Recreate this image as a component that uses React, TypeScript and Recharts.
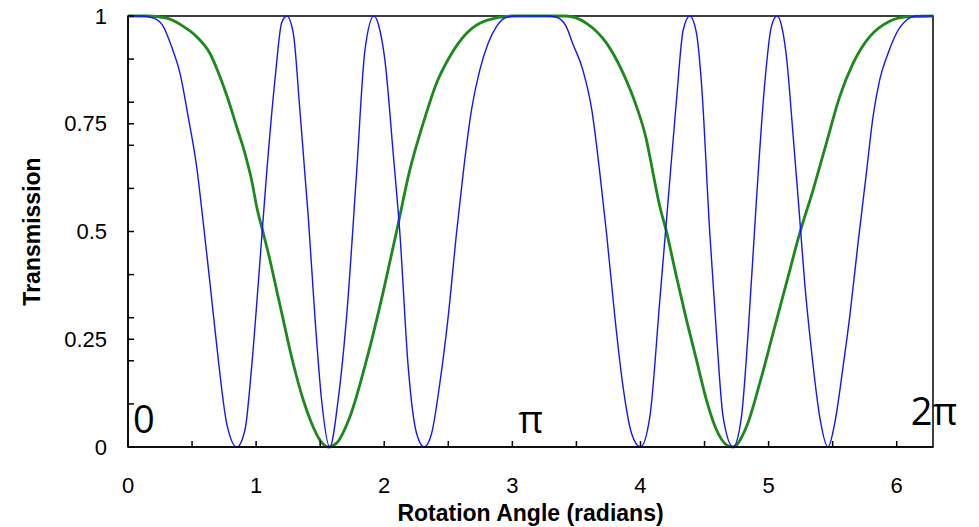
import React from "react";
import {
  LineChart,
  Line,
  XAxis,
  YAxis,
  ReferenceArea,
  ReferenceDot,
} from "recharts";

const TWO_PI = 6.2832;

// green trace: angle (rad) and transmission
const greenAngle = [
  0, 0.15, 0.302, 0.432, 0.536, 0.64, 0.718, 0.783, 0.848, 0.913, 0.965, 1.004,
  1.056, 1.108, 1.16, 1.212, 1.264, 1.316, 1.368, 1.433, 1.498, 1.563, 1.628,
  1.732, 1.862, 1.992, 2.096, 2.2, 2.304, 2.408, 2.512, 2.643, 2.799, 3.006,
  3.42, 3.579, 3.735, 3.865, 3.969, 4.047, 4.073, 4.151, 4.2, 4.281, 4.359,
  4.437, 4.515, 4.593, 4.671, 4.72, 4.827, 4.931, 5.035, 5.139, 5.243, 5.347,
  5.451, 5.555, 5.659, 5.789, 5.945, 6.075, 6.2832,
];
const greenValue = [
  1, 1, 0.995, 0.976, 0.952, 0.913, 0.859, 0.805, 0.743, 0.681, 0.619, 0.558,
  0.496, 0.434, 0.364, 0.295, 0.225, 0.163, 0.109, 0.055, 0.016, 0, 0.009,
  0.07, 0.202, 0.36, 0.5, 0.643, 0.751, 0.844, 0.906, 0.96, 0.99, 1,
  1, 0.983, 0.937, 0.867, 0.79, 0.712, 0.674, 0.558, 0.503, 0.395, 0.295,
  0.202, 0.109, 0.04, 0.005, 0, 0.047, 0.148, 0.264, 0.38, 0.496, 0.596,
  0.705, 0.813, 0.89, 0.952, 0.988, 0.998, 1,
];

// blue trace: angle (rad) and transmission
const blueAngle = [
  0, 0.1, 0.2, 0.275, 0.34, 0.406, 0.47, 0.536, 0.588, 0.64, 0.705, 0.77, 0.85,
  0.913, 0.965, 1.017, 1.082, 1.147, 1.2, 1.24, 1.29, 1.342, 1.407, 1.459,
  1.511, 1.575, 1.64, 1.706, 1.784, 1.849, 1.92, 1.966, 2.005, 2.07, 2.122,
  2.187, 2.252, 2.312, 2.37, 2.434, 2.499, 2.564, 2.616, 2.681, 2.746, 2.811,
  2.877, 2.955, 3.03, 3.15, 3.27, 3.345, 3.42, 3.47, 3.55, 3.62, 3.683, 3.735,
  3.8, 3.86, 3.93, 4.0, 4.073, 4.151, 4.216, 4.281, 4.333, 4.385, 4.437, 4.476,
  4.541, 4.593, 4.645, 4.723, 4.788, 4.84, 4.905, 4.97, 5.022, 5.066, 5.113,
  5.139, 5.19, 5.242, 5.282, 5.334, 5.399, 5.464, 5.516, 5.581, 5.633, 5.698,
  5.763, 5.815, 5.867, 5.932, 5.998, 6.075, 6.153, 6.2832,
];
const blueValue = [
  1, 1, 0.995, 0.976, 0.929, 0.867, 0.766, 0.65, 0.519, 0.38, 0.202, 0.055, 0,
  0.04, 0.186, 0.38, 0.635, 0.852, 0.985, 1, 0.96, 0.78, 0.534, 0.302,
  0.109, 0, 0.109, 0.302, 0.635, 0.92, 1, 0.967, 0.898, 0.681, 0.496,
  0.186, 0.032, 0, 0.032, 0.148, 0.302, 0.496, 0.635, 0.782, 0.875, 0.937,
  0.976, 0.997, 1, 1, 1, 0.997, 0.976, 0.937, 0.875, 0.782, 0.635, 0.496,
  0.302, 0.148, 0.032, 0, 0.07, 0.341, 0.573, 0.805, 0.967, 1, 0.96, 0.844,
  0.496, 0.264, 0.07, 0, 0.07, 0.264, 0.573, 0.844, 0.976, 1, 0.96,
  0.906, 0.728, 0.534, 0.38, 0.225, 0.07, 0, 0.055, 0.186, 0.302, 0.473,
  0.635, 0.766, 0.852, 0.913, 0.96, 0.99, 1, 1,
];

const xTicks = [0, 0.5, 1, 1.5, 2, 2.5, 3, 3.5, 4, 4.5, 5, 5.5, 6];
const xTickLabels = [0, 1, 2, 3, 4, 5, 6];
const yTicks = [0, 0.1, 0.2, 0.25, 0.3, 0.4, 0.5, 0.6, 0.7, 0.75, 0.8, 0.9, 1];
const yTickLabels = [0, 0.25, 0.5, 0.75, 1];

// angle markers written inside the plot
const markerText = ["0", "\u03c0", "2\u03c0"];
const markerAngle = [0.04, Math.PI, 6.11];
const markerLevel = [0.032, 0.032, 0.051];
const markerAnchor = ["start", "middle", "start"];

const greenData = greenAngle.map((x, i) => ({ x, v: greenValue[i] }));
const blueData = blueAngle.map((x, i) => ({ x, v: blueValue[i] }));

const tickFont = "'Liberation Sans', Arial, sans-serif";

const XTick = (props: any) => {
  const { x, y, payload } = props;
  const showLabel = xTickLabels.includes(payload.value);
  return (
    <g>
      <line x1={x} x2={x} y1={y} y2={y - 6} stroke="#000" strokeWidth={1.5} />
      {showLabel && (
        <text x={x} y={y + 46} textAnchor="middle" fontSize={22} fontFamily={tickFont} fill="#000">
          {payload.value}
        </text>
      )}
    </g>
  );
};

const YTick = (props: any) => {
  const { x, y, payload } = props;
  const showLabel = yTickLabels.includes(payload.value);
  return (
    <g>
      <line x1={x} x2={x + 6} y1={y} y2={y} stroke="#000" strokeWidth={1.5} />
      {showLabel && (
        <text x={x - 21} y={y} dy="0.35em" textAnchor="end" fontSize={22} fontFamily={tickFont} fill="#000">
          {payload.value}
        </text>
      )}
    </g>
  );
};

const App = () => {
  return (
    <div style={{ position: "absolute", left: 0, top: 0 }}>
      <LineChart width={979} height={527} margin={{ top: 16, right: 46, left: 0, bottom: 0 }}>
        <XAxis
          dataKey="x"
          type="number"
          domain={[0, TWO_PI]}
          ticks={xTicks}
          interval={0}
          allowDataOverflow
          height={80}
          tickSize={0}
          tickMargin={0}
          tickLine={false}
          tick={<XTick />}
          axisLine={{ stroke: "#000", strokeWidth: 1.5 }}
          label={{
            content: (p: any) => (
              <text
                x={p.viewBox.x + p.viewBox.width / 2}
                y={p.viewBox.y + 74}
                textAnchor="middle"
                fontSize={23}
                fontWeight="bold"
                fontFamily={tickFont}
                fill="#000"
              >
                Rotation Angle (radians)
              </text>
            ),
          }}
        />
        <YAxis
          dataKey="v"
          type="number"
          domain={[0, 1]}
          ticks={yTicks}
          interval={0}
          width={128}
          tickSize={0}
          tickMargin={0}
          tickLine={false}
          tick={<YTick />}
          axisLine={{ stroke: "#000", strokeWidth: 1.5 }}
          label={{
            content: (p: any) => (
              <text
                x={40}
                y={p.viewBox.y + p.viewBox.height / 2}
                transform={`rotate(-90, 40, ${p.viewBox.y + p.viewBox.height / 2})`}
                textAnchor="middle"
                fontSize={23}
                fontWeight="bold"
                fontFamily={tickFont}
                fill="#000"
              >
                Transmission
              </text>
            ),
          }}
        />
        <ReferenceArea x1={0} x2={TWO_PI} y1={0} y2={1} fill="none" stroke="#000" strokeWidth={1.5} />
        <Line
          data={greenData}
          dataKey="v"
          type="monotone"
          stroke="#1b8a1b"
          strokeWidth={2.8}
          dot={false}
          isAnimationActive={false}
        />
        <Line
          data={blueData}
          dataKey="v"
          type="monotone"
          stroke="#1414ff"
          strokeWidth={1.4}
          dot={false}
          isAnimationActive={false}
        />
        {markerText.map((t, i) => (
          <ReferenceDot
            key={t}
            x={markerAngle[i]}
            y={markerLevel[i]}
            r={0}
            fill="none"
            stroke="none"
            ifOverflow="visible"
            label={{
              content: (p: any) => (
                <text
                  x={p.viewBox.x}
                  y={p.viewBox.y}
                  textAnchor={markerAnchor[i]}
                  fontSize={38}
                  fontFamily="'Open Sans', sans-serif"
                  fill="#000"
                >
                  {t}
                </text>
              ),
            }}
          />
        ))}
      </LineChart>
    </div>
  );
};

export default App;
